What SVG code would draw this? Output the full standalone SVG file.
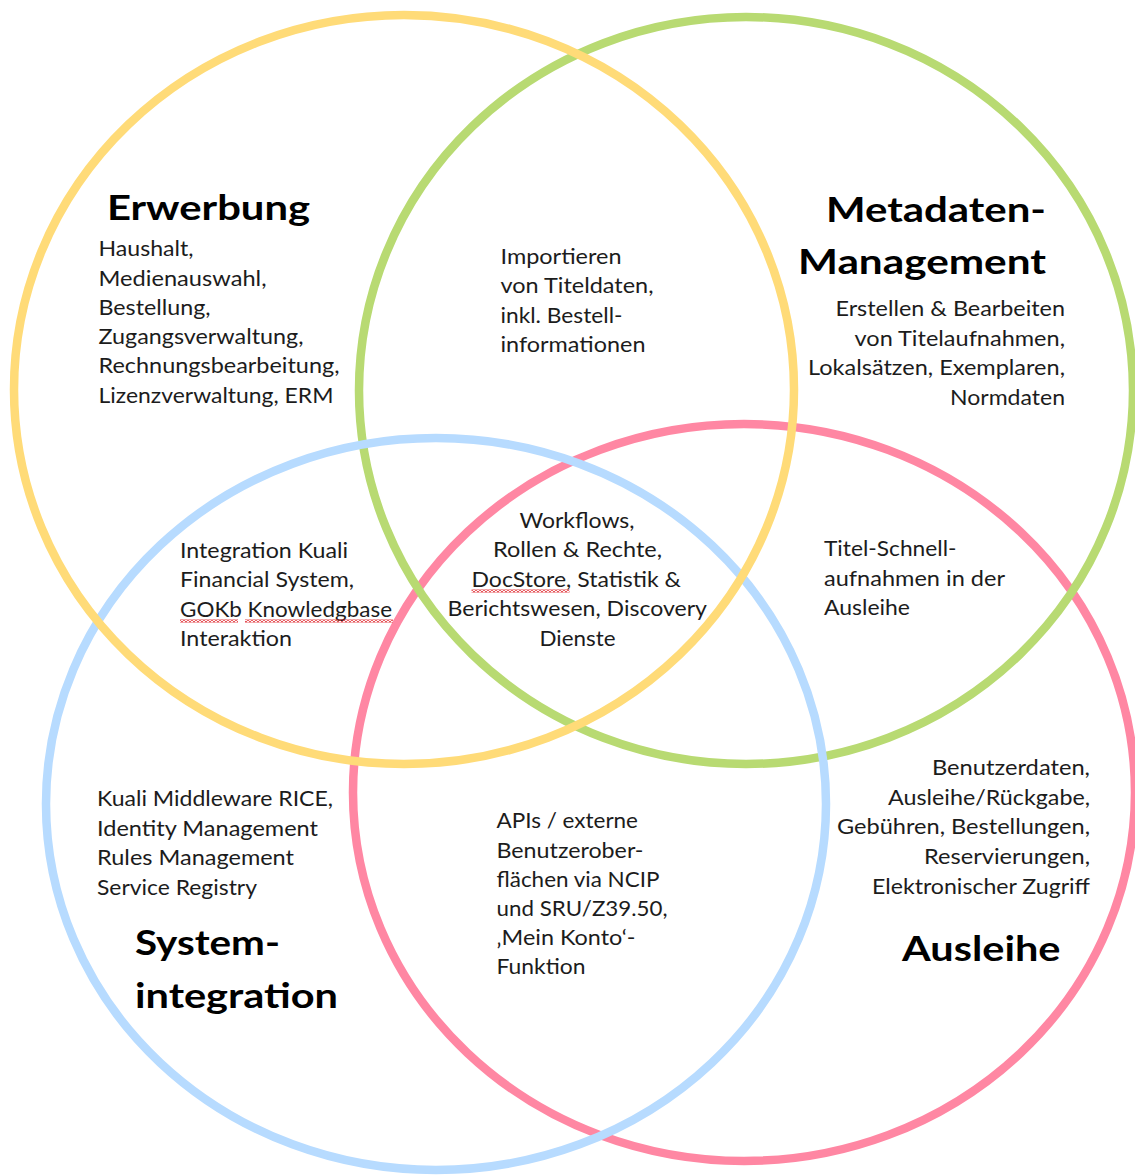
<svg xmlns="http://www.w3.org/2000/svg" width="1135" height="1175" viewBox="0 0 1135 1175">
  <defs>
    <style>
      .ring { fill: none; stroke-width: 8.5; }
      .body { font-family: Lato, "Open Sans", "Liberation Sans", sans-serif; font-size: 22px; fill: #1c1c1c; }
      .title { font-family: Lato, "Open Sans", "Liberation Sans", sans-serif; font-size: 35px; font-weight: bold; fill: #000; }
    </style>
    <!-- wavy red underline used for spell-check marks -->
    <pattern id="squiggle" x="0" y="0" width="4" height="3" patternUnits="userSpaceOnUse">
      <polyline points="0,2.5 2,0.5 4,2.5" fill="none" stroke="#e0262c" stroke-width="1.2"/>
    </pattern>
  </defs>

  <rect width="1135" height="1175" fill="#fff"/>

  <!-- the four overlapping areas -->
  <g id="rings">
    <ellipse id="ring-ausleihe" class="ring" cx="744" cy="792.5" rx="391" ry="368.5" stroke="#ff87a3"/>
    <ellipse id="ring-metadaten" class="ring" cx="746" cy="390.5" rx="387" ry="373.5" stroke="#b8da72"/>
    <ellipse id="ring-systemintegration" class="ring" cx="436" cy="804" rx="390" ry="366" stroke="#b7dbff"/>
    <ellipse id="ring-erwerbung" class="ring" cx="404" cy="389.5" rx="390" ry="374.5" stroke="#ffdb78"/>
  </g>

  <!-- Erwerbung -->
  <g id="erwerbung">
    <text class="title" x="107" y="220" textLength="203" lengthAdjust="spacingAndGlyphs">Erwerbung</text>
    <text class="body" x="98.5" y="256" textLength="95" lengthAdjust="spacingAndGlyphs">Haushalt,</text>
    <text class="body" x="98.5" y="285.5" textLength="168" lengthAdjust="spacingAndGlyphs">Medienauswahl,</text>
    <text class="body" x="98.5" y="314.5" textLength="112" lengthAdjust="spacingAndGlyphs">Bestellung,</text>
    <text class="body" x="98.5" y="344" textLength="205" lengthAdjust="spacingAndGlyphs">Zugangsverwaltung,</text>
    <text class="body" x="98.5" y="373" textLength="241" lengthAdjust="spacingAndGlyphs">Rechnungsbearbeitung,</text>
    <text class="body" x="98.5" y="402.5" textLength="235" lengthAdjust="spacingAndGlyphs">Lizenzverwaltung, ERM</text>
  </g>

  <!-- Metadaten-Management -->
  <g id="metadaten">
    <text class="title" x="826" y="222" textLength="220" lengthAdjust="spacingAndGlyphs">Metadaten-</text>
    <text class="title" x="798" y="274" textLength="248" lengthAdjust="spacingAndGlyphs">Management</text>
    <text class="body" x="835.5" y="316" textLength="229.5" lengthAdjust="spacingAndGlyphs">Erstellen &amp; Bearbeiten</text>
    <text class="body" x="854.5" y="345.5" textLength="210.5" lengthAdjust="spacingAndGlyphs">von Titelaufnahmen,</text>
    <text class="body" x="808" y="375" textLength="257" lengthAdjust="spacingAndGlyphs">Lokalsätzen, Exemplaren,</text>
    <text class="body" x="950" y="404.5" textLength="115" lengthAdjust="spacingAndGlyphs">Normdaten</text>
  </g>

  <!-- Erwerbung ∩ Metadaten -->
  <g id="import">
    <text class="body" x="500.5" y="263.5" textLength="121" lengthAdjust="spacingAndGlyphs">Importieren</text>
    <text class="body" x="500.5" y="293" textLength="153" lengthAdjust="spacingAndGlyphs">von Titeldaten,</text>
    <text class="body" x="500.5" y="322.5" textLength="122" lengthAdjust="spacingAndGlyphs">inkl. Bestell-</text>
    <text class="body" x="500.5" y="352" textLength="145" lengthAdjust="spacingAndGlyphs">informationen</text>
  </g>

  <!-- Erwerbung ∩ Systemintegration -->
  <g id="kuali-financial">
    <text class="body" x="180" y="557.5" textLength="168" lengthAdjust="spacingAndGlyphs">Integration Kuali</text>
    <text class="body" x="180" y="587" textLength="174" lengthAdjust="spacingAndGlyphs">Financial System,</text>
    <text class="body" x="180" y="616.5" textLength="212" lengthAdjust="spacingAndGlyphs">GOKb Knowledgbase</text>
    <text class="body" x="180" y="646" textLength="112" lengthAdjust="spacingAndGlyphs">Interaktion</text>
    <rect x="180" y="619.5" width="58" height="3" fill="url(#squiggle)"/>
    <rect x="245" y="619.5" width="148" height="3" fill="url(#squiggle)"/>
  </g>

  <!-- all four areas -->
  <g id="core">
    <text class="body" x="519.5" y="527.5" textLength="115" lengthAdjust="spacingAndGlyphs">Workflows,</text>
    <text class="body" x="493" y="557" textLength="169" lengthAdjust="spacingAndGlyphs">Rollen &amp; Rechte,</text>
    <text class="body" x="471.5" y="586.5" textLength="209.5" lengthAdjust="spacingAndGlyphs">DocStore, Statistik &amp;</text>
    <text class="body" x="447.5" y="616" textLength="259.5" lengthAdjust="spacingAndGlyphs">Berichtswesen, Discovery</text>
    <text class="body" x="539.5" y="645.5" textLength="76" lengthAdjust="spacingAndGlyphs">Dienste</text>
    <rect x="471.5" y="589.5" width="98" height="3" fill="url(#squiggle)"/>
  </g>

  <!-- Metadaten ∩ Ausleihe -->
  <g id="schnellaufnahme">
    <text class="body" x="824" y="556" textLength="132.5" lengthAdjust="spacingAndGlyphs">Titel-Schnell-</text>
    <text class="body" x="824" y="585.5" textLength="181" lengthAdjust="spacingAndGlyphs">aufnahmen in der</text>
    <text class="body" x="824" y="615" textLength="86" lengthAdjust="spacingAndGlyphs">Ausleihe</text>
  </g>

  <!-- Systemintegration -->
  <g id="systemintegration">
    <text class="body" x="97" y="806" textLength="236" lengthAdjust="spacingAndGlyphs">Kuali Middleware RICE,</text>
    <text class="body" x="97" y="835.5" textLength="221" lengthAdjust="spacingAndGlyphs">Identity Management</text>
    <text class="body" x="97" y="865" textLength="197" lengthAdjust="spacingAndGlyphs">Rules Management</text>
    <text class="body" x="97" y="894.5" textLength="160" lengthAdjust="spacingAndGlyphs">Service Registry</text>
    <text class="title" x="135" y="955" textLength="145" lengthAdjust="spacingAndGlyphs">System-</text>
    <text class="title" x="135" y="1008" textLength="203" lengthAdjust="spacingAndGlyphs">integration</text>
  </g>

  <!-- Systemintegration ∩ Ausleihe -->
  <g id="apis">
    <text class="body" x="496.5" y="828" textLength="141.5" lengthAdjust="spacingAndGlyphs">APIs / externe</text>
    <text class="body" x="496.5" y="857.5" textLength="147" lengthAdjust="spacingAndGlyphs">Benutzerober-</text>
    <text class="body" x="496.5" y="887" textLength="163" lengthAdjust="spacingAndGlyphs">flächen via NCIP</text>
    <text class="body" x="496.5" y="916" textLength="171" lengthAdjust="spacingAndGlyphs">und SRU/Z39.50,</text>
    <text class="body" x="496.5" y="945" textLength="139" lengthAdjust="spacingAndGlyphs">‚Mein Konto‘-</text>
    <text class="body" x="496.5" y="974" textLength="89" lengthAdjust="spacingAndGlyphs">Funktion</text>
  </g>

  <!-- Ausleihe -->
  <g id="ausleihe">
    <text class="body" x="932" y="775" textLength="158" lengthAdjust="spacingAndGlyphs">Benutzerdaten,</text>
    <text class="body" x="888" y="805" textLength="202" lengthAdjust="spacingAndGlyphs">Ausleihe/Rückgabe,</text>
    <text class="body" x="837" y="834" textLength="253" lengthAdjust="spacingAndGlyphs">Gebühren, Bestellungen,</text>
    <text class="body" x="924" y="864" textLength="166" lengthAdjust="spacingAndGlyphs">Reservierungen,</text>
    <text class="body" x="872" y="893.5" textLength="218" lengthAdjust="spacingAndGlyphs">Elektronischer Zugriff</text>
    <text class="title" x="902" y="961" textLength="158.5" lengthAdjust="spacingAndGlyphs">Ausleihe</text>
  </g>

  <!-- no connectors in this diagram -->
  <g id="connectors"/>
</svg>
